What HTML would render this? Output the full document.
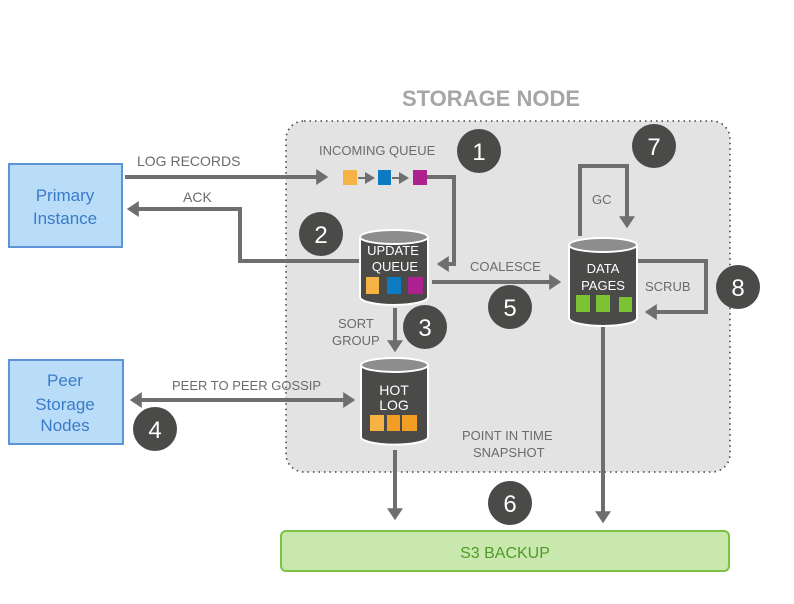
<!DOCTYPE html>
<html><head><meta charset="utf-8"><style>
html,body{margin:0;padding:0;background:#fff;}
svg{display:block;font-family:"Liberation Sans",Arial,sans-serif;}
</style></head><body>
<svg width="794" height="604" viewBox="0 0 794 604" xmlns="http://www.w3.org/2000/svg">
<defs>
<marker id="ah" markerWidth="4" markerHeight="4" refX="2.2" refY="2" orient="auto" markerUnits="strokeWidth">
<path d="M0,0 L3,2 L0,4 Z" fill="#6e6e6e"/></marker>
<marker id="ahs" markerWidth="6" markerHeight="6" refX="3" refY="3" orient="auto" markerUnits="strokeWidth">
<path d="M0,0 L5,3 L0,6 Z" fill="#6e6e6e"/></marker>
<marker id="ahb" markerWidth="4" markerHeight="4" refX="0.8" refY="2" orient="auto" markerUnits="strokeWidth">
<path d="M3,0 L0,2 L3,4 Z" fill="#6e6e6e"/></marker>
</defs>
<text x="491" y="106" text-anchor="middle" font-size="22" font-weight="bold" fill="#a6a6a6">STORAGE NODE</text>
<rect x="286" y="121" width="444" height="351" rx="18" fill="#e3e3e3" stroke="#444" stroke-width="1.6" stroke-dasharray="1.5 4"/>

<rect x="9" y="164" width="113" height="83" fill="#b9dcf8" stroke="#5b95d5" stroke-width="2"/>
<text x="65" y="201" text-anchor="middle" font-size="17" fill="#3a7cc8">Primary</text>
<text x="65" y="224" text-anchor="middle" font-size="17" fill="#3a7cc8">Instance</text>
<rect x="9" y="360" width="114" height="84" fill="#b9dcf8" stroke="#5b95d5" stroke-width="2"/>
<text x="65" y="386" text-anchor="middle" font-size="17" fill="#3a7cc8">Peer</text>
<text x="65" y="410" text-anchor="middle" font-size="17" fill="#3a7cc8">Storage</text>
<text x="65" y="431" text-anchor="middle" font-size="17" fill="#3a7cc8">Nodes</text>

<rect x="281" y="531" width="448" height="40" rx="5" fill="#c9e8ae" stroke="#7cc243" stroke-width="2"/>
<text x="505" y="558" text-anchor="middle" font-size="16" fill="#4f9a28">S3 BACKUP</text>

<g stroke="#6e6e6e" stroke-width="4" fill="none">
<line x1="125" y1="177" x2="325" y2="177" marker-end="url(#ah)"/>
<polyline points="359,261 240,261 240,209 130,209" marker-end="url(#ah)"/>
<polyline points="426,177 454,177 454,264 440,264" marker-end="url(#ah)"/>
<line x1="432" y1="282" x2="558" y2="282" marker-end="url(#ah)"/>
<line x1="395" y1="308" x2="395" y2="349" marker-end="url(#ah)"/>
<line x1="133" y1="400" x2="352" y2="400" marker-start="url(#ahb)" marker-end="url(#ah)"/>
<line x1="395" y1="450" x2="395" y2="517" marker-end="url(#ah)"/>
<line x1="603" y1="325" x2="603" y2="520" marker-end="url(#ah)"/>
<polyline points="580,236 580,166 627,166 627,225" marker-end="url(#ah)"/>
<polyline points="637,261 706,261 706,312 648,312" marker-end="url(#ah)"/>
</g>
<g stroke="#6e6e6e" stroke-width="2" fill="none">
<line x1="358" y1="178" x2="371" y2="178" marker-end="url(#ahs)"/>
<line x1="392" y1="178" x2="405" y2="178" marker-end="url(#ahs)"/>
</g>
<rect x="343" y="170" width="14" height="15" fill="#f7b244"/>
<rect x="378" y="170" width="13" height="15" fill="#0c7bc1"/>
<rect x="413" y="170" width="14" height="15" fill="#ae2290"/>

<!-- cylinders -->
<g>
<path d="M360,237 L360,297 A34,8 0 0 0 428,297 L428,237" fill="#4a4a49" stroke="#fff" stroke-width="2"/>
<ellipse cx="394" cy="237" rx="34" ry="7" fill="#8d8d8d" stroke="#fff" stroke-width="2"/>
<text x="393" y="255" text-anchor="middle" font-size="13" fill="#fff">UPDATE</text>
<text x="395" y="271" text-anchor="middle" font-size="13" fill="#fff">QUEUE</text>
<rect x="366" y="277" width="13" height="17" fill="#f7b244"/>
<rect x="387" y="277" width="14" height="17" fill="#0c7bc1"/>
<rect x="408" y="277" width="15" height="17" fill="#ae2290"/>
</g>
<g>
<path d="M361,365 L361,438 A34,8 0 0 0 428,438 L428,365" fill="#4a4a49" stroke="#fff" stroke-width="2"/>
<ellipse cx="394.5" cy="365" rx="33.5" ry="7" fill="#8d8d8d" stroke="#fff" stroke-width="2"/>
<text x="394" y="395" text-anchor="middle" font-size="14" fill="#fff">HOT</text>
<text x="394" y="410" text-anchor="middle" font-size="14" fill="#fff">LOG</text>
<rect x="370" y="415" width="14" height="16" fill="#f7b244"/>
<rect x="387" y="415" width="13" height="16" fill="#f29e24"/>
<rect x="402" y="415" width="15" height="16" fill="#f29e24"/>
</g>
<g>
<path d="M569,245 L569,318 A34,8 0 0 0 637,318 L637,245" fill="#4a4a49" stroke="#fff" stroke-width="2"/>
<ellipse cx="603" cy="245" rx="34" ry="7" fill="#8d8d8d" stroke="#fff" stroke-width="2"/>
<text x="603" y="273" text-anchor="middle" font-size="13" fill="#fff">DATA</text>
<text x="603" y="290" text-anchor="middle" font-size="13" fill="#fff">PAGES</text>
<rect x="576" y="295" width="14" height="17" fill="#7cc232"/>
<rect x="596" y="295" width="14" height="17" fill="#7cc232"/>
<rect x="619" y="297" width="13" height="15" fill="#7cc232"/>
</g>

<g font-size="13" fill="#6b6b6b">
<text x="137" y="166" font-size="14">LOG RECORDS</text>
<text x="183" y="202" font-size="14">ACK</text>
<text x="319" y="155">INCOMING QUEUE</text>
<text x="470" y="271">COALESCE</text>
<text x="338" y="328">SORT</text>
<text x="332" y="345">GROUP</text>
<text x="172" y="390">PEER TO PEER GOSSIP</text>
<text x="462" y="440">POINT IN TIME</text>
<text x="473" y="457">SNAPSHOT</text>
<text x="592" y="204">GC</text>
<text x="645" y="291">SCRUB</text>
</g>

<g fill="#4a4a49">
<circle cx="479" cy="151" r="22"/><circle cx="321" cy="234" r="22"/>
<circle cx="425" cy="327" r="22"/><circle cx="155" cy="429" r="22"/>
<circle cx="510" cy="307" r="22"/><circle cx="510" cy="503" r="22"/>
<circle cx="654" cy="146" r="22"/><circle cx="738" cy="287" r="22"/>
</g>
<g fill="#fff" font-size="24" text-anchor="middle">
<text x="479" y="160">1</text><text x="321" y="243">2</text>
<text x="425" y="336">3</text><text x="155" y="438">4</text>
<text x="510" y="316">5</text><text x="510" y="512">6</text>
<text x="654" y="155">7</text><text x="738" y="296">8</text>
</g>
</svg>
</body></html>
